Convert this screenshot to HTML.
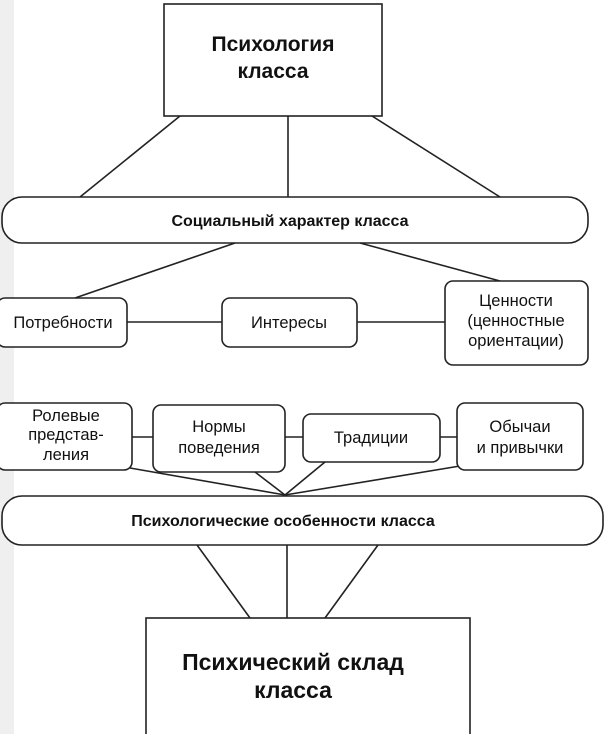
<!DOCTYPE html>
<html><head><meta charset="utf-8"><style>
html,body{margin:0;padding:0;background:#fff;}
svg{display:block;}
text{font-family:"Liberation Sans",Arial,sans-serif;fill:#111;}
</style></head><body>
<svg width="605" height="734" viewBox="0 0 605 734" xmlns="http://www.w3.org/2000/svg">
<rect width="605" height="734" fill="#fff"/>
<rect x="0" y="0" width="14" height="734" fill="#e4e4e4" opacity="0.6"/>
<g stroke="#222" stroke-width="1.6" fill="none">
<rect x="164" y="4" width="218" height="112" fill="#fff"/>
<line x1="180" y1="116" x2="80" y2="197"/>
<line x1="288" y1="116" x2="288" y2="197"/>
<line x1="372" y1="116" x2="500" y2="197"/>
<rect x="2" y="197" width="586" height="46" rx="20" fill="#fff"/>
<line x1="235" y1="243" x2="75" y2="298"/>
<line x1="360" y1="243" x2="500" y2="281"/>
<line x1="127" y1="322" x2="222" y2="322"/>
<line x1="357" y1="322" x2="445" y2="322"/>
<rect x="-3" y="298" width="130" height="49" rx="8" fill="#fff"/>
<rect x="222" y="298" width="135" height="49" rx="8" fill="#fff"/>
<rect x="445" y="281" width="143" height="84" rx="8" fill="#fff"/>
<line x1="132" y1="437" x2="153" y2="437"/>
<line x1="285" y1="437" x2="303" y2="437"/>
<line x1="440" y1="437" x2="457" y2="437"/>
<line x1="130" y1="468" x2="285" y2="495"/>
<line x1="255" y1="472" x2="285" y2="495"/>
<line x1="325" y1="462" x2="285" y2="495"/>
<line x1="460" y1="466" x2="285" y2="495"/>
<rect x="-3" y="403" width="135" height="67" rx="8" fill="#fff"/>
<rect x="153" y="405" width="132" height="67" rx="8" fill="#fff"/>
<rect x="303" y="414" width="137" height="48" rx="8" fill="#fff"/>
<rect x="457" y="403" width="126" height="67" rx="8" fill="#fff"/>
<rect x="2" y="496" width="601" height="49" rx="20" fill="#fff"/>
<line x1="197" y1="545" x2="250" y2="618"/>
<line x1="287" y1="545" x2="287" y2="618"/>
<line x1="378" y1="545" x2="325" y2="618"/>
<rect x="146" y="618" width="324" height="130" fill="#fff"/>
</g>
<g text-anchor="middle">
<text x="273" y="51" font-size="21" font-weight="bold">Психология</text>
<text x="273" y="78" font-size="21" font-weight="bold">класса</text>
<text x="290" y="226" font-size="16" font-weight="bold">Социальный характер класса</text>
<text x="63" y="328" font-size="16.5">Потребности</text>
<text x="289" y="328" font-size="16.5">Интересы</text>
<text x="516" y="306" font-size="16.5">Ценности</text>
<text x="516" y="326" font-size="16.5">(ценностные</text>
<text x="516" y="346" font-size="16.5">ориентации)</text>
<text x="66" y="421" font-size="16.5">Ролевые</text>
<text x="66" y="440" font-size="16.5">представ-</text>
<text x="66" y="460" font-size="16.5">ления</text>
<text x="219" y="432" font-size="16.5">Нормы</text>
<text x="219" y="453" font-size="16.5">поведения</text>
<text x="371" y="443" font-size="16.5">Традиции</text>
<text x="520" y="432" font-size="16.5">Обычаи</text>
<text x="520" y="453" font-size="16.5">и привычки</text>
<text x="283" y="526" font-size="16" font-weight="bold">Психологические особенности класса</text>
<text x="293" y="670" font-size="23" font-weight="bold">Психический склад</text>
<text x="293" y="698" font-size="23" font-weight="bold">класса</text>
</g>
</svg>
</body></html>
